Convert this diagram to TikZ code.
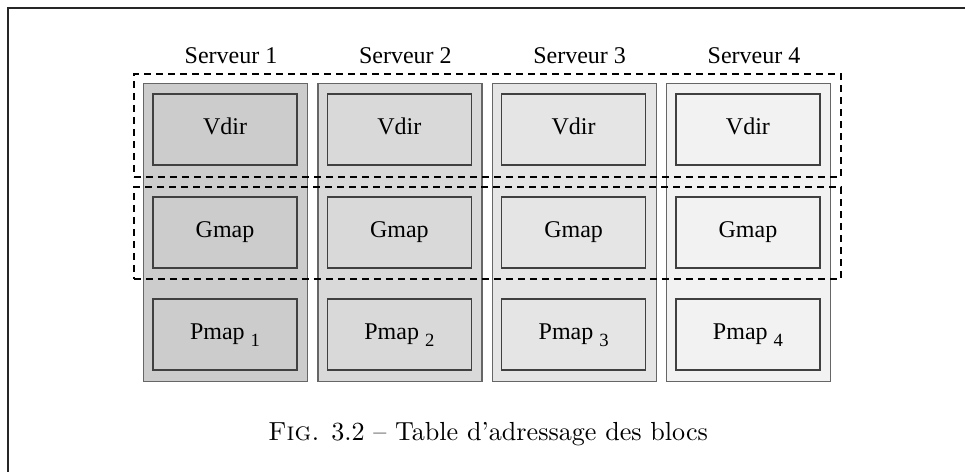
\documentclass[tikz,border=0pt]{standalone}
\usepackage{fontspec}
\newfontfamily\tms{Liberation Serif}
\newfontfamily\capfont{lmroman10-regular}[Extension=.otf,Ligatures=TeX,SmallCapsFont=lmromancaps10-regular]
\begin{document}
\begin{tikzpicture}[x=0.75pt,y=-0.75pt,
  frame/.style={draw=black!85,line width=0.9pt},
  column/.style={draw=black!60,line width=0.9pt,rectangle,inner sep=0pt,
    minimum width=123pt,minimum height=223.5pt,anchor=north west},
  cell/.style={draw=black!75,line width=0.9pt,rectangle,inner sep=0pt,
    minimum width=108pt,minimum height=53.25pt,
    text height=7.5pt,text depth=0pt,font=\tms\fontsize{18}{20}\selectfont},
  group/.style={draw=black,line width=1.3pt,dash pattern=on 5.5pt off 3.5pt,
    rectangle,inner sep=0pt,anchor=north west},
  title/.style={font=\tms\fontsize{18}{20}\selectfont,anchor=base}]
\useasboundingbox (0,0) rectangle (965,472);

% open frame: top and left edges only
\coordinate (tr) at (965,8);
\coordinate (tl) at (8,8);
\coordinate (bl) at (8,472);
\draw[frame] (tr) -- (tl) -- (bl);

% one column per server, each with its three tables
\foreach \i/\f in {1/20,2/15,3/10,4/5}{
  \pgfmathsetmacro{\xl}{143+174.33*(\i-1)}
  \node[column,fill=black!\f] (col\i) at (\xl,83) {};
  \node[title] (s\i) at (\xl+88,63) {Serveur \i};
  \node[cell,fill=black!\f] (v\i) at (\xl+82,129.5) {Vdir};
  \node[cell,fill=black!\f] (g\i) at (\xl+82,232.5) {Gmap};
  \node[cell,fill=black!\f] (p\i) at (\xl+82,334.5)
    {Pmap\ \raisebox{-5.5pt}{\fontsize{14}{14}\selectfont\i}};
}

% replicated groups (Vdir, Gmap)
\node[group,minimum width=530.25pt,minimum height=77.25pt] (gv) at (133,73) {};
\node[group,minimum width=530.25pt,minimum height=69pt] (gg) at (133,186) {};

% caption
\node[font=\capfont\fontsize{19.6}{22}\selectfont,anchor=base] (cap) at (488,440)
  {\textsc{Fig.} 3.2 -- Table d'adressage des blocs};
\end{tikzpicture}
\end{document}
